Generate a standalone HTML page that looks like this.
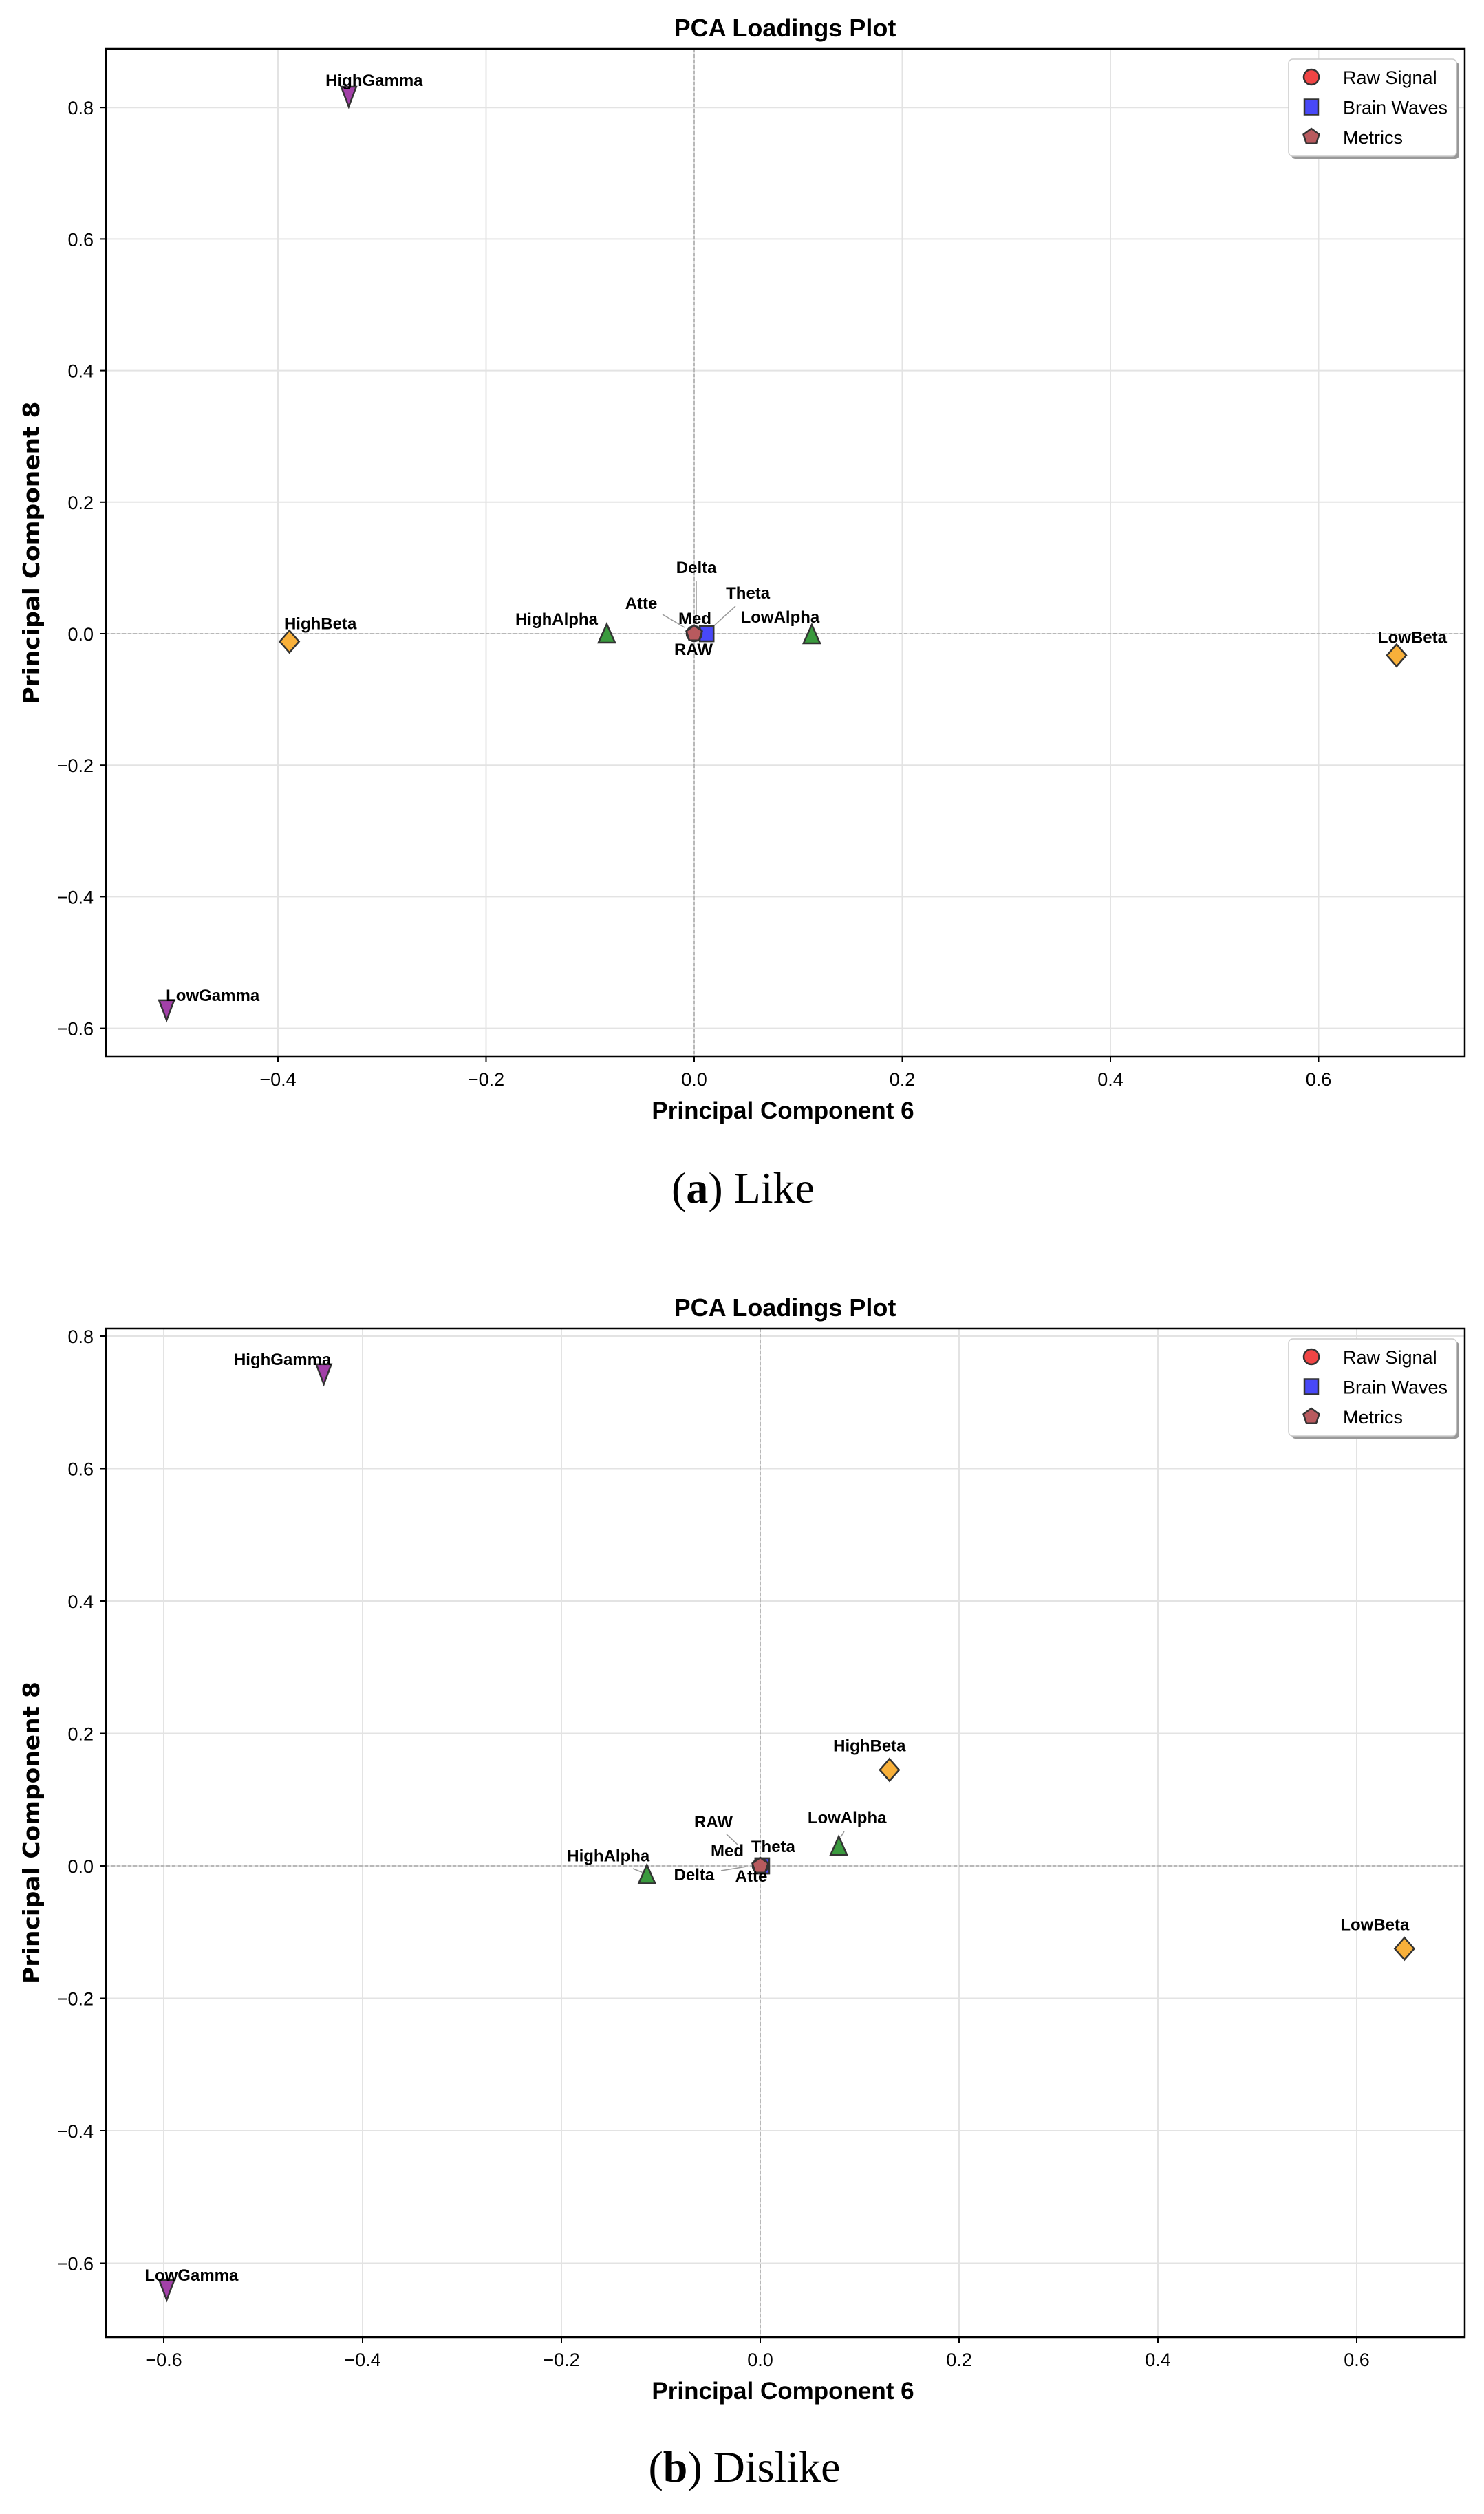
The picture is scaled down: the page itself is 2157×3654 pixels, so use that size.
<!DOCTYPE html>
<html><head><meta charset="utf-8"><style>
html,body{margin:0;padding:0;background:#fff;}
svg{display:block;}
</style></head><body>
<svg id="root" width="2157" height="3654" viewBox="0 0 2157 3654" xmlns="http://www.w3.org/2000/svg">
<text x="1080" y="1748" font-family="Liberation Serif, serif" font-size="64" text-anchor="middle">(<tspan font-weight="bold">a</tspan>) Like</text>
<text x="1082" y="3607" font-family="Liberation Serif, serif" font-size="64" text-anchor="middle">(<tspan font-weight="bold">b</tspan>) Dislike</text>
</svg>
<script>
// ---- Chart A (Like) data ----
const likeFeatures = ["HighGamma","LowGamma","HighBeta","LowBeta","HighAlpha","LowAlpha","Delta","Theta","Atte","Med","RAW"];
const likePC6 = [-0.332,-0.507,-0.389,0.675,-0.084,0.113,0.012,0.012,0.0,0.0,0.0];
const likePC8 = [0.817,-0.572,-0.012,-0.033,0.0,-0.001,0.0,0.0,0.0,0.0,0.0];
const likeXTicks = [-0.4,-0.2,0.0,0.2,0.4,0.6];
const likeYTicks = [-0.6,-0.4,-0.2,0.0,0.2,0.4,0.6,0.8];
// ---- Chart B (Dislike) data ----
const dislikeFeatures = ["HighGamma","LowGamma","HighBeta","LowBeta","HighAlpha","LowAlpha","Delta","Theta","Atte","Med","RAW"];
const dislikePC6 = [-0.439,-0.597,0.130,0.648,-0.114,0.079,0.002,0.002,0.0,0.0,0.0];
const dislikePC8 = [0.743,-0.640,0.145,-0.125,-0.013,0.030,0.0,0.0,0.0,0.0,0.0];
const dislikeXTicks = [-0.6,-0.4,-0.2,0.0,0.2,0.4,0.6];
const dislikeYTicks = [-0.6,-0.4,-0.2,0.0,0.2,0.4,0.6,0.8];
const legendLabels = ["Raw Signal","Brain Waves","Metrics"];

const NS = "http://www.w3.org/2000/svg";
const root = document.getElementById('root');
function mk(tag, attrs, parent){
  const e = document.createElementNS(NS, tag);
  for (const k in attrs) e.setAttribute(k, attrs[k]);
  (parent||root).appendChild(e);
  return e;
}
function typeOf(n){
  if (n==="RAW") return "raw";
  if (n==="Atte"||n==="Med") return "metric";
  if (n.indexOf("Gamma")>=0) return "gamma";
  if (n.indexOf("Beta")>=0) return "beta";
  if (n.indexOf("Alpha")>=0) return "alpha";
  return "wave";
}
function drawMarker(g, type, cx, cy){
  let e;
  const st = {stroke:"#333", "stroke-width":2.5};
  if (type==="raw"){ e = mk('circle', Object.assign({cx:cx, cy:cy, r:11, fill:"#f04545"}, st), g); }
  else if (type==="wave"){ e = mk('rect', Object.assign({x:cx-10, y:cy-11, width:20, height:22, fill:"#4848f8"}, st), g); }
  else if (type==="metric"){
    let p=[]; for(let i=0;i<5;i++){const a=-Math.PI/2+i*2*Math.PI/5; p.push((cx+12*Math.cos(a)).toFixed(1)+","+(cy+12*Math.sin(a)).toFixed(1));}
    e = mk('polygon', Object.assign({points:p.join(" "), fill:"#b85a5e"}, st), g);
  }
  else if (type==="gamma"){ e = mk('polygon', Object.assign({points:`${cx-11},${cy-14} ${cx+11},${cy-14} ${cx},${cy+15}`, fill:"#a240a8"}, st), g); }
  else if (type==="alpha"){ e = mk('polygon', Object.assign({points:`${cx-12},${cy+13} ${cx+12},${cy+13} ${cx},${cy-14}`, fill:"#3a9a3e"}, st), g); }
  else if (type==="beta"){ e = mk('polygon', Object.assign({points:`${cx},${cy-16} ${cx+14},${cy} ${cx},${cy+16} ${cx-14},${cy}`, fill:"#f8b03a"}, st), g); }
  return e;
}

function drawChart(cfg){
  const g = mk('g', {});
  
  
  const L=154, R=2129, T=cfg.top, B=cfg.bottom;
  const sx = v => cfg.x0px + v*cfg.xs;
  const sy = v => cfg.y0px - v*cfg.ys;
  // grid
  cfg.xTicks.forEach(t=>{
    const l = mk('line',{x1:sx(t),x2:sx(t),y1:T,y2:B,stroke:"#e3e3e3","stroke-width":2},g);
    
    
  });
  cfg.yTicks.forEach(t=>{
    const l = mk('line',{x1:L,x2:R,y1:sy(t),y2:sy(t),stroke:"#e3e3e3","stroke-width":2},g);
    
    
  });
  // zero lines
  const zx = mk('line',{x1:sx(0),x2:sx(0),y1:T,y2:B,stroke:"#aaa","stroke-width":1.5,"stroke-dasharray":"5,3"},g);
  
  
  const zy = mk('line',{x1:L,x2:R,y1:sy(0),y2:sy(0),stroke:"#aaa","stroke-width":1.5,"stroke-dasharray":"5,3"},g);
  
  
  // ticks
  cfg.xTicks.forEach(t=>{
    mk('line',{x1:sx(t),x2:sx(t),y1:B,y2:B+8,stroke:"#000","stroke-width":2},g);
    const tx = mk('text',{x:sx(t),y:B+42,"font-family":"Liberation Sans, sans-serif","font-size":27,"text-anchor":"middle"},g);
    tx.textContent = (t<0?"\u2212":"")+Math.abs(t).toFixed(1);
    
    
  });
  cfg.yTicks.forEach(t=>{
    mk('line',{x1:L-8,x2:L,y1:sy(t),y2:sy(t),stroke:"#000","stroke-width":2},g);
    const tx = mk('text',{x:L-18,y:sy(t)+10,"font-family":"Liberation Sans, sans-serif","font-size":27,"text-anchor":"end"},g);
    tx.textContent = (t<0?"\u2212":"")+Math.abs(t).toFixed(1);
    
    
  });
  // points
  cfg.features.forEach((n,i)=>{
    const cx = sx(cfg.xs_[i]), cy = sy(cfg.ys_[i]);
    const off = cfg.labelOff[n];
    const lx = cx+off[0], ly = cy+off[1];
    if (off[2]){
      const ln = mk('line',{x1:off[2][0],y1:off[2][1],x2:off[2][2],y2:off[2][3],stroke:"#999","stroke-width":1.5},g);
      
      
    }
  });
  // draw in order: others first, then waves, metrics, raw
  const order = cfg.features.map((n,i)=>i).sort((a,b)=>{
    const r={gamma:0,beta:0,alpha:0,wave:1,raw:2,metric:3};
    return r[typeOf(cfg.features[a])]-r[typeOf(cfg.features[b])];
  });
  order.forEach(i=>{
    const n = cfg.features[i];
    const m = drawMarker(g, typeOf(n), sx(cfg.xs_[i]), sy(cfg.ys_[i]));
    
    
  });
  cfg.features.forEach((n,i)=>{
    const cx = sx(cfg.xs_[i]), cy = sy(cfg.ys_[i]);
    const off = cfg.labelOff[n];
    const t = mk('text',{x:cx+off[0],y:cy+off[1],"font-family":"Liberation Sans, sans-serif","font-size":24,"font-weight":"bold","text-anchor":"middle"},g);
    t.textContent = n;
    
    
  });
  // frame
  const fr = mk('rect',{x:L,y:T,width:R-L,height:B-T,fill:"none",stroke:"#000","stroke-width":2.5},g);
  
  
  // title & labels
  const ti = mk('text',{x:1141,y:T-18,"font-family":"Liberation Sans, sans-serif","font-size":36,"font-weight":"bold","text-anchor":"middle"},g);
  ti.textContent = "PCA Loadings Plot";
  
  
  const xl = mk('text',{x:1138,y:B+90,"font-family":"Liberation Sans, sans-serif","font-size":35,"font-weight":"bold","text-anchor":"middle"},g);
  xl.textContent = "Principal Component 6";
  
  
  const yc=(T+B)/2;
  const yl = mk('text',{x:0,y:0,"font-family":"DejaVu Sans, Liberation Sans, sans-serif","font-size":33,"font-weight":"bold","text-anchor":"middle",transform:`translate(57,${yc}) rotate(-90)`,textLength:440,lengthAdjust:"spacingAndGlyphs"},g);
  yl.textContent = "Principal Component 8";
  
  
  // legend
  const lg = mk('g',{},g);
  
  
  const ly0 = T+15;
  mk('rect',{x:1877,y:ly0+4,width:244,height:141,rx:6,fill:"#999"},lg);
  mk('rect',{x:1873,y:ly0,width:244,height:141,rx:6,fill:"#fff",stroke:"#ccc","stroke-width":1.5},lg);
  const types=["raw","wave","metric"];
  legendLabels.forEach((lab,i)=>{
    const yy = ly0+26+i*43.5;
    const m = drawMarker(lg, types[i], 1906, yy);
    
    
    const tt = mk('text',{x:1952,y:yy+10,"font-family":"Liberation Sans, sans-serif","font-size":27},lg);
    tt.textContent = lab;
    
    
  });
}

drawChart({
  name:"chart-like", top:71, bottom:1536, x0px:1009, xs:1512.5, y0px:921, ys:956,
  features:likeFeatures, xs_:likePC6, ys_:likePC8, xTicks:likeXTicks, yTicks:likeYTicks,
  labelOff:{HighGamma:[37,-15],LowGamma:[67,-13],HighBeta:[45,-18],LowBeta:[23,-18],
    HighAlpha:[-73,-13],LowAlpha:[-46,-17],
    Delta:[-15,-88,[1012,845,1012,905]],Theta:[60,-51,[1069,881,1035,912]],
    Atte:[-77,-36,[963,893,995,912]],Med:[1,-14],RAW:[-1,31]}
});
drawChart({
  name:"chart-dislike", top:1931, bottom:3397, x0px:1105, xs:1445, y0px:2712, ys:962.5,
  features:dislikeFeatures, xs_:dislikePC6, ys_:dislikePC8, xTicks:dislikeXTicks, yTicks:dislikeYTicks,
  labelOff:{HighGamma:[-60,-13],LowGamma:[36,-13],HighBeta:[-29,-27],LowBeta:[-43,-27],
    HighAlpha:[-56,-19,[920,2716,935,2722]],LowAlpha:[12,-33,[1227,2662,1222,2670]],
    Delta:[-99,21,[1048,2719,1085,2713]],Theta:[16,-20],
    Atte:[-13,23],Med:[-48,-14],RAW:[-68,-56,[1056,2666,1073,2682]]}
});
</script>
</body></html>
